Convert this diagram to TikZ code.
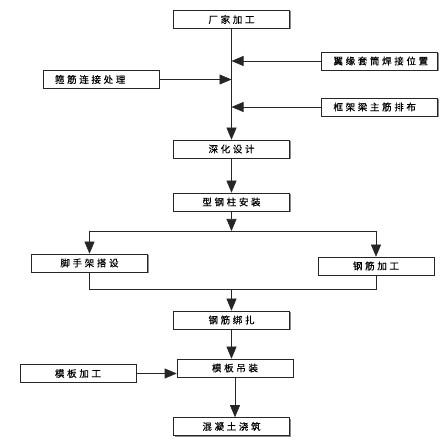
\documentclass[tikz,border=0pt]{standalone}
\usepackage{fontspec}
\newfontfamily\cjk[LetterSpace=28,FakeBold=0.3]{Noto Sans CJK SC}
\usetikzlibrary{arrows.meta,shadows}
\tikzset{
  stepbox/.style={draw=black!85,fill=white,line width=0.6pt,minimum width=116pt,
    minimum height=18pt,inner sep=0pt,font=\cjk\fontsize{9.5}{10}\selectfont,
    drop shadow={shadow xshift=1pt,shadow yshift=-1pt,fill=black!45,opacity=1}},
  sidebox/.style={stepbox,text width=92pt,inner xsep=12pt,align=left},
  arr/.style={draw=black!85,line width=0.6pt,-{Triangle[length=12pt,width=10pt]}},
  ln/.style={draw=black!85,line width=0.6pt}
}
\begin{document}
\begin{tikzpicture}[x=1pt,y=-1pt]
\useasboundingbox (0,0) rectangle (447,443);
% main column
\node[stepbox] (factory) at (231.5,19.5) {厂家加工};
\node[sidebox] (flange) at (379.5,61) {翼缘套筒焊接位置};
\node[sidebox] (stirrup) at (101,79.5) {箍筋连接处理};
\node[sidebox] (beam) at (379.5,107) {框架梁主筋排布};
\node[stepbox] (deepen) at (231.5,149) {深化设计};
\node[stepbox] (column) at (231.5,202) {型钢柱安装};
\node[stepbox] (scaffold) at (89.5,263) {脚手架搭设};
\node[stepbox] (rebar) at (376,266) {钢筋加工};
\node[stepbox] (tie) at (231.5,320) {钢筋绑扎};
\node[stepbox] (lift) at (235,368) {模板吊装};
\node[stepbox] (form) at (78,373.5) {模板加工};
\node[stepbox] (pour) at (231.5,426.5) {混凝土浇筑};
\coordinate (split) at (231.5,231);
\coordinate (merge) at (231.5,289);
% connectors
\draw[arr] (factory.south) -- (deepen.north);
\draw[arr] (flange.west) -- (flange.west -| factory.south);
\draw[arr] (stirrup.east) -- (stirrup.east -| factory.south);
\draw[arr] (beam.west) -- (beam.west -| factory.south);
\draw[arr] (deepen.south) -- (column.north);
\draw[arr] (column.south) -- (split);
\draw[ln] (scaffold.north |- split) -- (rebar.north |- split);
\draw[arr] (scaffold.north |- split) -- (scaffold.north);
\draw[arr] (rebar.north |- split) -- (rebar.north);
\draw[ln] (scaffold.south) |- (rebar.south |- merge) -- (rebar.south);
\draw[arr] (merge) -- (tie.north);
\draw[arr] (tie.south) -- (tie.south |- lift.north);
\draw[arr] (form.east) -- (form.east -| lift.west);
\draw[arr] (lift.south) -- (lift.south |- pour.north);
\end{tikzpicture}
\end{document}
